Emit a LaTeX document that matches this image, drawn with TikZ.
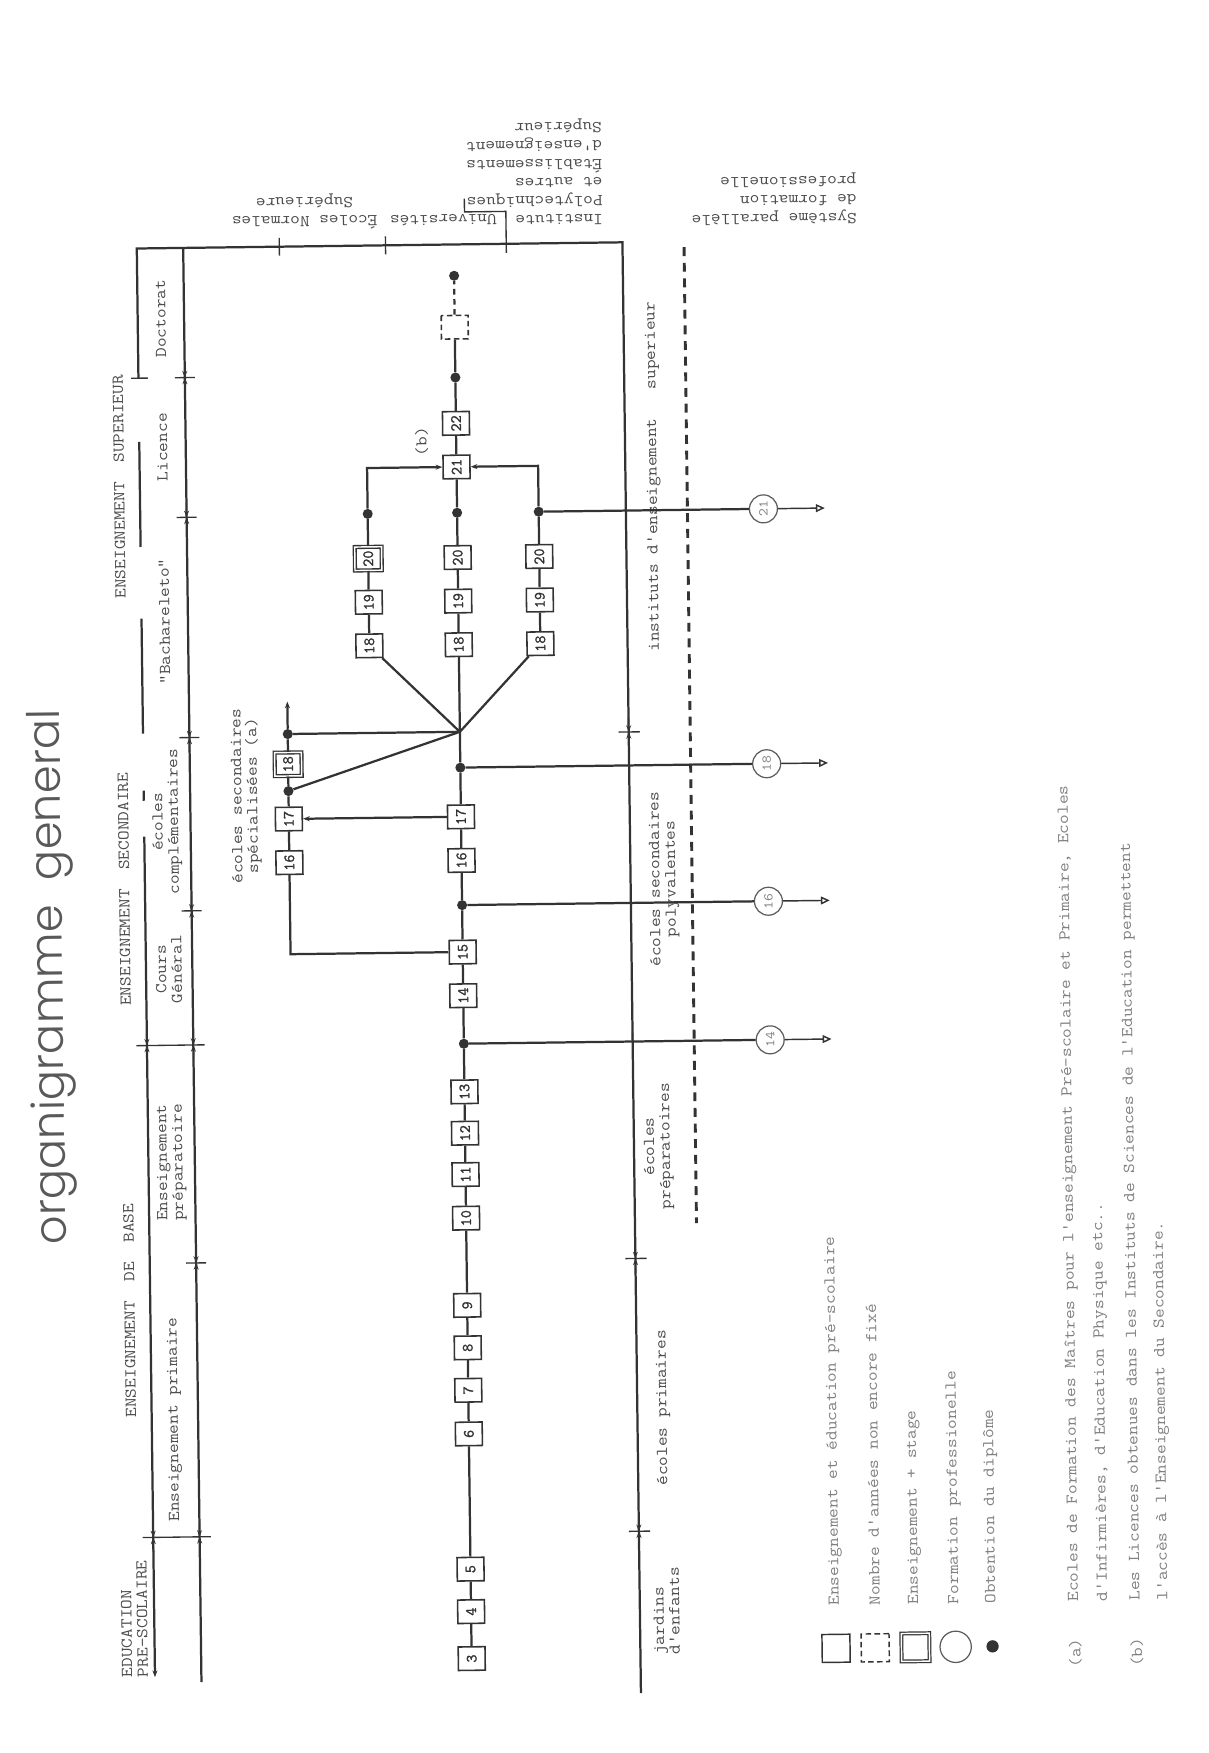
\documentclass[tikz,border=0pt]{standalone}
\usepackage{fontspec}
\usetikzlibrary{arrows.meta}
\newfontfamily\tw{Latin Modern Mono}[FakeStretch=1.14]
\newfontfamily\bx{Latin Modern Mono}[FakeBold=1.5]
\newfontfamily\ttl{Poppins Light}
\definecolor{ink}{gray}{0.2}
\definecolor{txtc}{gray}{0.3}
\definecolor{faint}{gray}{0.5}
\tikzset{
  ln/.style={draw=ink, line width=2pt},
  lnthin/.style={draw=ink, line width=1.3pt},
  arw/.style={-{Stealth[length=6pt,width=4.5pt]}},
  oarw/.style={-{Triangle[open,length=8pt,width=7pt]}},
  yr/.style={draw=ink, line width=1.4pt, fill=white, minimum width=21pt, minimum height=24pt, inner sep=0pt, rotate=90, font=\bx\fontsize{14}{14}\selectfont, text=ink},
  stg/.style={yr, double=white, double distance=1.3pt, line width=1.2pt},
  undef/.style={yr, dash pattern=on 5pt off 3pt},
  dotn/.style={circle, fill=ink, minimum size=9pt, inner sep=0pt},
  ring/.style={circle, draw=ink!80, line width=1.1pt, fill=white, minimum size=25pt, inner sep=0pt, rotate=90, font=\tw\fontsize{12}{12}\selectfont, text=faint},
  txt/.style={rotate=90, inner sep=0pt, align=center, font=\tw\fontsize{14.8}{14}\selectfont, text=txtc},
  txtl/.style={txt, align=left},
  upsd/.style={rotate=180, inner sep=0pt, align=left, font=\tw\fontsize{14.8}{16.5}\selectfont, text=txtc},
  tk/.style={draw=ink, line width=1.2pt},
  lgtxt/.style={txt, anchor=west, text=faint},
}
\begin{document}
\begin{tikzpicture}[x=1pt,y=-1pt]
\fill[white] (0,0) rectangle (1081,1568);
\useasboundingbox (0,0) rectangle (1081,1568);
\begin{scope}[rotate around={0.73:(540,860)}, transform shape]

% title
\node[rotate=90, anchor=base west, inner sep=0pt, font=\ttl\fontsize{40}{40}\selectfont, text=black!65] (title) at (56,1107) {organigramme\hspace{22pt}general};

% headers
\node[txtl, anchor=north west] (hpre) at (100.7,1495) {EDUCATION\\PRE-SCOLAIRE};
\node[txt] (hbas) at (112,1167) {ENSEIGNEMENT\ \ DE\ \ BASE};
\node[txt] (hsec) at (112,790) {ENSEIGNEMENT\ \ SECONDAIRE};
\node[txt] (hsup) at (112,430) {ENSEIGNEMENT\ \ SUPERIEUR};

% level labels
\node[txt] (lDoc) at (151,280) {Doctorat};
\node[txt] (lLic) at (151,395) {Licence};
\node[txt] (lBac) at (151,551) {"Bachareleto"};
\node[txt] (lCom) at (151,730) {écoles\\complémentaires};
\node[txt] (lCou) at (151,862) {Cours\\Général};
\node[txt] (lPre) at (151,1035) {Enseignement\\préparatoire};
\node[txt] (lPri) at (151,1265) {Enseignement primaire};

% frame lines
\coordinate (TL) at (130.5,217);
\coordinate (TR) at (565,217);
\coordinate (TLf) at (130.5,333);
\coordinate (BR) at (565,1515);
\draw[ln] (TLf) -- (TL) -- (TR) -- (BR);
\draw[tk] (124,333) -- (139,333);
\draw[ln] (130.5,390) -- (130.5,484);
\draw[ln] (130.5,548) -- (130.5,651);
\draw[ln] (130.5,702) -- (130.5,711);
\draw[ln,arw] (130.5,743) -- (130.5,1495);
\draw[ln] (172,217) -- (172,1500);
\foreach \yy in {333,458,655,810,1125} {
  \draw[tk] (163,\yy) -- (181,\yy);
}
\foreach \yy in {930,1370} {
  \draw[tk] (121,\yy) -- (182,\yy);
  \draw[tk,arw] (130.5,{\yy-13}) -- (130.5,\yy);
  \draw[tk,arw] (130.5,{\yy+13}) -- (130.5,\yy);
}
\foreach \yy in {333,458,655,810,930,1125,1370} {
  \draw[tk,arw] (172,{\yy-13}) -- (172,\yy);
  \draw[tk,arw] (172,{\yy+13}) -- (172,\yy);
}
\foreach \yy in {655,1126,1370} {
  \draw[tk] (556,\yy) -- (575,\yy);
  \draw[tk,arw] (565,{\yy-13}) -- (565,\yy);
  \draw[tk,arw] (565,{\yy+13}) -- (565,\yy);
}
\draw[tk] (565,924) -- (565,940);
% top ticks and separator
\foreach \xx in {258,353} { \draw[tk] (\xx,209) -- (\xx,225); }
\draw[tk] (461,225) -- (461,188) -- (424,188) -- (424,176);

% upside-down labels
\node[upsd, align=center] (ens) at (281,186) {Écoles Normales\\Supérieure};
\node[upsd] (univ) at (405,195) {Universités};
\node[upsd, anchor=north west] (inst) at (548,201) {Institute\\Polytechniques\\et autres\\Établissements\\d'enseignement\\Supérieur};
\node[upsd, anchor=north west] (sys) at (775,203) {Système parallèle\\de formation\\professionelle};

% dashed parallel line
\draw[draw=ink, line width=2.6pt, dash pattern=on 8pt off 6pt] (620,222) -- (620,1095);

% right side labels
\node[txtl, anchor=north west] (rJar) at (577,1481) {jardins\\d'enfants};
\node[txt] (rPri) at (588,1260) {écoles primaires};
\node[txt] (rPre) at (587,1026) {écoles\\préparatoires};
\node[txt] (rSec) at (595,787) {écoles secondaires\\polyvalentes};
\node[txt] (rIns) at (590,427) {instituts d'enseignement\ \ \ superieur};

% main line boxes
\foreach \n/\yy in {3/1482,4/1440,5/1402,6/1281,7/1242,8/1204,9/1166,10/1088,11/1049,12/1012,13/975,14/889,15/850,16/768,17/729}
  \node[yr] (b\n) at (414,\yy) {\n};
\node[dotn] (d13) at (414,932) {};
\node[dotn] (d15) at (414,808) {};
\node[dotn] (d17) at (414,685) {};
\coordinate (J) at (414,653);
\foreach \n/\yy in {18/575,19/536} {
  \node[yr] (t\n) at (334,\yy) {\n};
  \node[yr] (m\n) at (414,\yy) {\n};
  \node[yr] (r\n) at (487,\yy) {\n};
}
\node[stg] (t20) at (334,497) {20};
\node[yr] (m20) at (414,497) {20};
\node[yr] (r20) at (487,497) {20};
\node[dotn] (dt20) at (334,457) {};
\node[dotn] (dm20) at (414,457) {};
\node[dotn] (dr20) at (487,457) {};
\node[yr] (b21) at (414,416) {21};
\node[yr] (b22) at (414,377) {22};
\node[txt] (lb) at (383,393) {(b)};
\node[dotn] (d22) at (414,336) {};
\node[undef] (bu) at (414,291) {};
\node[dotn] (dtop) at (414,245) {};

% specialised column
\node[yr] (s16) at (260,768) {16};
\node[yr] (s17) at (260,729) {17};
\node[dotn] (sd1) at (260,704) {};
\node[stg] (s18) at (260,680) {18};
\node[dotn] (sd2) at (260,653) {};
\coordinate (sup) at (260,624);
\node[txt] (lspe) at (222,708) {écoles secondaires\\spécialisées (a)};

% circles
\node[ring] (c14) at (688,932) {14};
\node[ring] (c16) at (688,808) {16};
\node[ring] (c18) at (688,685) {18};
\node[ring] (c21) at (688,457) {21};
\coordinate (e14) at (743,932);
\coordinate (e16) at (743,808);
\coordinate (e18) at (743,685);
\coordinate (e21) at (743,457);

% connectors
\draw[ln] (b3)--(b4)--(b5)--(b6)--(b7)--(b8)--(b9)--(b10)--(b11)--(b12)--(b13)--(d13)--(b14)--(b15)--(d15)--(b16)--(b17)--(d17)--(J)--(m18)--(m19)--(m20)--(dm20)--(b21)--(b22)--(d22)--(bu);
\draw[ln, dash pattern=on 5pt off 4pt] (bu)--(dtop);
\draw[ln] (J)--(t18)--(t19)--(t20)--(dt20);
\draw[ln] (J)--(r18)--(r19)--(r20)--(dr20);
\draw[ln,arw] (dt20) |- (b21);
\draw[ln,arw] (dr20) |- (b21);
\draw[ln] (b15) -| (s16);
\draw[ln] (s16)--(s17)--(sd1)--(s18)--(sd2);
\draw[ln,arw] (sd2)--(sup);
\draw[ln,arw] (b17)--(s17);
\draw[ln] (sd1)--(J);
\draw[ln] (sd2)--(J);
\draw[ln] (d13)--(c14); \draw[lnthin,oarw] (c14)--(e14);
\draw[ln] (d15)--(c16); \draw[lnthin,oarw] (c16)--(e16);
\draw[ln] (d17)--(c18); \draw[lnthin,oarw] (c18)--(e18);
\draw[ln] (dr20)--(c21); \draw[lnthin,oarw] (c21)--(e21);

% legend
\node[draw=ink, line width=1.3pt, minimum size=25pt, inner sep=0pt] (lg1) at (740,1477) {};
\node[draw=ink, line width=1.3pt, dash pattern=on 5pt off 3pt, minimum size=25pt, inner sep=0pt] (lg2) at (775,1477) {};
\node[draw=ink, line width=1.1pt, double=white, double distance=1.3pt, minimum size=25pt, inner sep=0pt] (lg3) at (811,1477) {};
\node[circle, draw=ink!80, line width=1.1pt, minimum size=28pt, inner sep=0pt] (lg4) at (847,1477) {};
\node[dotn, minimum size=11pt] (lg5) at (880,1477) {};
\node[lgtxt] (lt1) at (740,1439) {Enseignement et éducation pré-scolaire};
\node[lgtxt] (lt2) at (775,1439) {Nombre d'années non encore fixé};
\node[lgtxt] (lt3) at (811,1439) {Enseignement + stage};
\node[lgtxt] (lt4) at (847,1439) {Formation professionelle};
\node[lgtxt] (lt5) at (880,1439) {Obtention du diplôme};

% notes
\node[txt, text=faint] (na) at (954,1484) {(a)};
\node[lgtxt] (n1) at (954,1438) {Ecoles de Formation des Maîtres pour l'enseignement Pré-scolaire et Primaire, Ecoles};
\node[lgtxt] (n2) at (980,1438) {d'Infirmières, d'Education Physique etc..};
\node[txt, text=faint] (nb) at (1009,1484) {(b)};
\node[lgtxt] (n3) at (1009,1438) {Les Licences obtenues dans les Instituts de Sciences de l'Education permettent};
\node[lgtxt] (n4) at (1034,1438) {l'accès à l'Enseignement du Secondaire.};
\end{scope}
\end{tikzpicture}
\end{document}
